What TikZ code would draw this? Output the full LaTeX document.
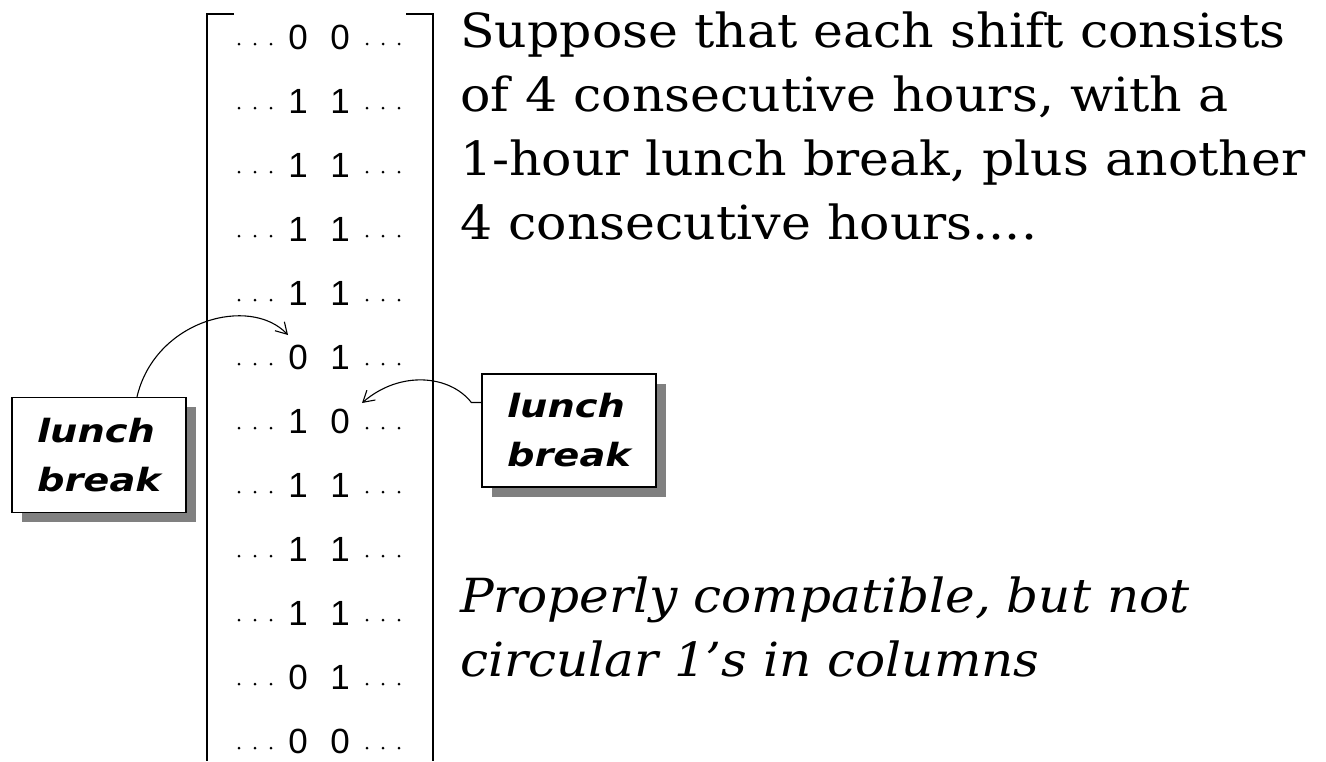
\documentclass[tikz,border=0pt]{standalone}
\usepackage{fontspec}
\usepackage{graphicx}
\setmainfont{DejaVu Serif}
\newfontfamily\digitfont{Liberation Sans}
\newfontfamily\boxfont{DejaVu Sans}
\usetikzlibrary{arrows.meta}
\newcommand{\bodyscale}[1]{\scalebox{1.075}[1]{#1}}
\newcommand{\itscale}[1]{\scalebox{1.065}[1]{#1}}
\newcommand{\boxscale}[1]{\scalebox{1.2}[1]{#1}}
\begin{document}
\begin{tikzpicture}[x=1pt,y=-1pt,
  digit/.style={font=\digitfont\fontsize{35}{35}\selectfont, inner sep=0pt, anchor=base},
  dotmark/.style={fill=black, circle, inner sep=0pt, minimum size=3pt},
  note/.style={draw, line width=1.3pt, fill=white, minimum width=174pt, minimum height=115pt,
    font=\boxfont\bfseries\itshape\fontsize{32}{49}\selectfont, align=left, inner sep=0pt},
  shadowbox/.style={fill=black!50},
  bracket/.style={line width=1.6pt},
  callout/.style={line width=1.1pt, -{Straight Barb[length=11pt,width=13pt]}},
  body/.style={font=\fontsize{47}{47}\selectfont, anchor=base west, inner sep=0pt},
  bodyit/.style={font=\itshape\fontsize{47}{47}\selectfont, anchor=base west, inner sep=0pt},
]
\useasboundingbox[fill=white] (0,0) rectangle (1326,761);
% bracket
\draw[bracket] (234,14) -- (207,14) -- (207,761);
\draw[bracket] (406,14) -- (433,14) -- (433,761);
% rows
\foreach \a/\b [count=\i] in {0/0,1/1,1/1,1/1,1/1,0/1,1/0,1/1,1/1,1/1,0/1,0/0}{
  \pgfmathsetmacro{\yb}{49+64*(\i-1)}
  \node[digit] (r\i a) at (298,\yb) {\a};
  \node[digit] (r\i b) at (340,\yb) {\b};
  \foreach \x in {239,255,271,367,383,399}{
    \node[dotmark] at (\x,\yb-5) {};
  }
}
% text
\node[body] (t1) at (460,47) {\bodyscale{Suppose that each shift consists}};
\node[body] (t2) at (460,111) {\bodyscale{of 4 consecutive hours, with a}};
\node[body] (t3) at (460,175) {\bodyscale{1-hour lunch break, plus another}};
\node[body] (t4) at (460,239) {\bodyscale{4 consecutive hours....}};
\node[bodyit] (i1) at (460,612) {\itscale{Properly compatible, but not}};
\node[bodyit] (i2) at (460,676) {\itscale{circular 1's in columns}};
% boxes
\fill[shadowbox] (22,407) rectangle (196,522);
\node[note] (lb1) at (99,455) {\boxscale{lunch}\\\boxscale{break}};
\fill[shadowbox] (492,384) rectangle (666,497);
\node[note, minimum height=113pt] (lb2) at (569,430.5) {\boxscale{lunch}\\\boxscale{break}};
% connectors
\coordinate (e1) at (288,335);
\coordinate (e2) at (362,403);
\draw[callout] ([xshift=38pt]lb1.north) .. controls (155,320) and (250,295) .. (e1);
\draw[callout] ([yshift=28pt]lb2.west) -- ++(-10,0) .. controls (450,375) and (400,370) .. (e2);
\end{tikzpicture}
\end{document}
